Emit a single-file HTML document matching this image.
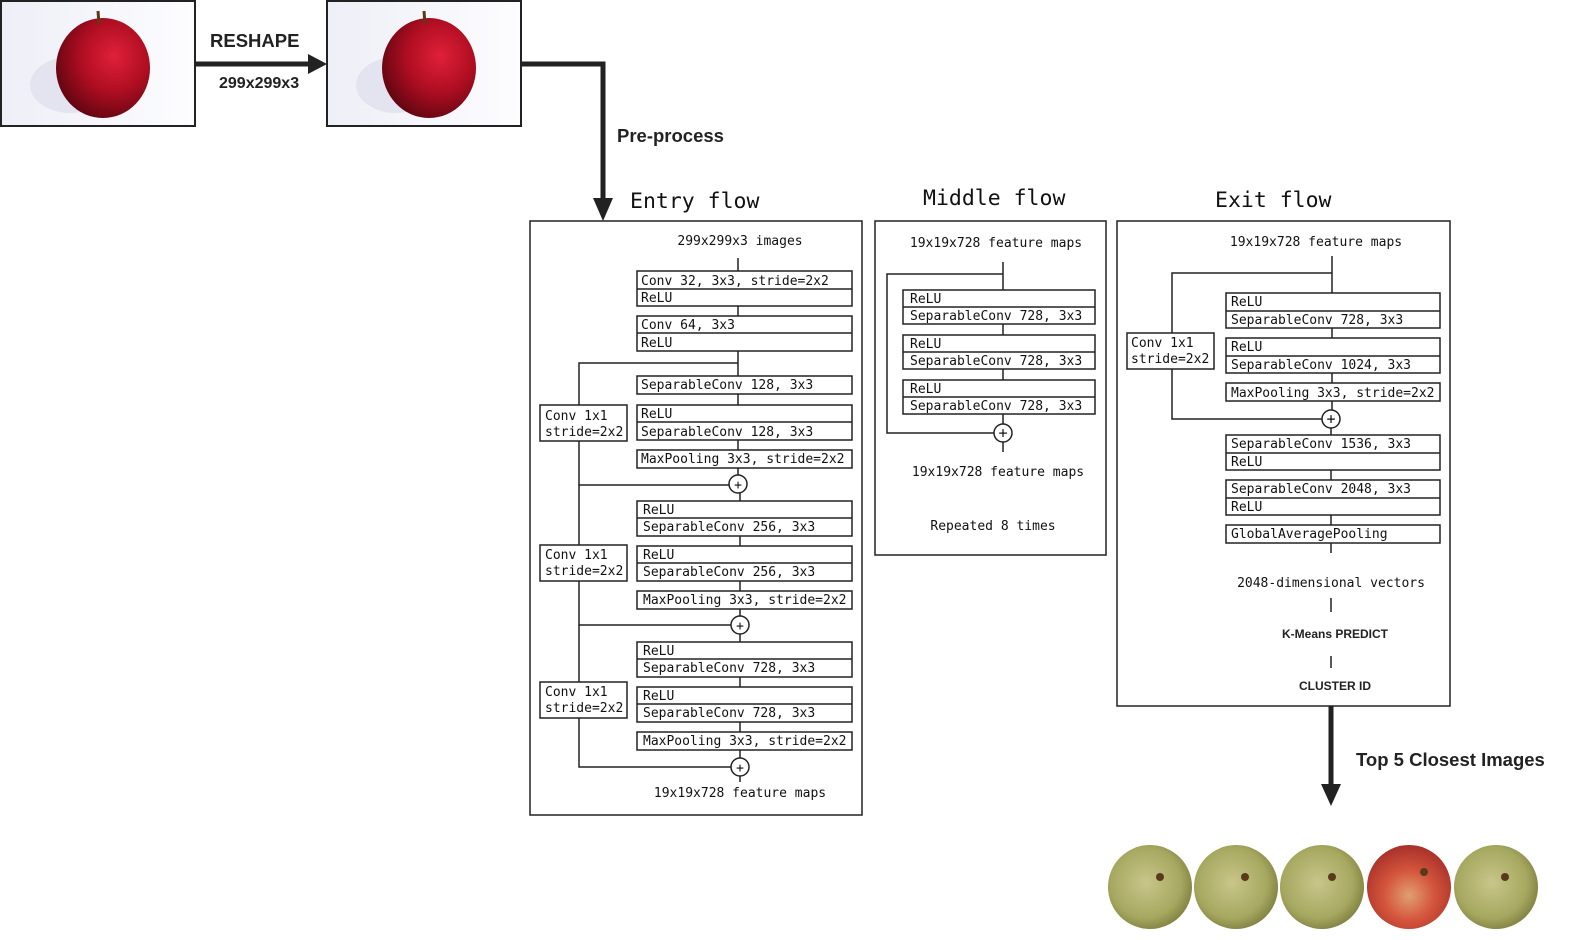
<!DOCTYPE html>
<html><head><meta charset="utf-8"><style>
html,body{margin:0;padding:0;background:#fff}
svg{display:block}
.m{font-family:"DejaVu Sans Mono","Liberation Mono",monospace;font-size:13px;fill:#111}
.t{font-family:"DejaVu Sans Mono","Liberation Mono",monospace;font-size:21.5px;fill:#111}
.s{font-family:"Liberation Sans",sans-serif;font-weight:bold;fill:#222}
</style></head><body>
<svg width="1569" height="940" viewBox="0 0 1569 940" xmlns="http://www.w3.org/2000/svg">
<defs>
<radialGradient id="ra" cx="0.62" cy="0.38" r="0.7">
<stop offset="0" stop-color="#e0203a"/><stop offset="0.5" stop-color="#b00e22"/><stop offset="1" stop-color="#5a0510"/>
</radialGradient>
<radialGradient id="ga" cx="0.45" cy="0.45" r="0.6">
<stop offset="0" stop-color="#c9c68a"/><stop offset="0.7" stop-color="#a6a860"/><stop offset="1" stop-color="#7d7c3e"/>
</radialGradient>
<radialGradient id="pa" cx="0.5" cy="0.6" r="0.6">
<stop offset="0" stop-color="#e0a070"/><stop offset="0.5" stop-color="#d4553c"/><stop offset="1" stop-color="#a8302a"/>
</radialGradient>
<linearGradient id="bg" x1="0" x2="1"><stop offset="0" stop-color="#eeeff7"/><stop offset="1" stop-color="#fdfdff"/></linearGradient>
</defs>

<g stroke="#222" stroke-width="2">
<rect x="1" y="1" width="194" height="125" fill="url(#bg)"/>
<rect x="327" y="1" width="194" height="125" fill="url(#bg)"/>
</g>
<g>
<ellipse cx="70" cy="85" rx="40" ry="28" fill="#e4e4f0"/>
<ellipse cx="103" cy="68" rx="47" ry="50" fill="url(#ra)"/>
<path d="M99 24 L98 11" stroke="#5a3a1a" stroke-width="3"/>
<ellipse cx="396" cy="85" rx="40" ry="28" fill="#e4e4f0"/>
<ellipse cx="429" cy="68" rx="47" ry="50" fill="url(#ra)"/>
<path d="M425 24 L424 11" stroke="#5a3a1a" stroke-width="3"/>
</g>

<line x1="195" y1="64" x2="310" y2="64" stroke="#222" stroke-width="5"/>
<polygon points="308,54 327,64 308,74" fill="#222"/>
<text class="s" x="210" y="47" font-size="18.5">RESHAPE</text>
<text class="s" x="219" y="88" font-size="16">299x299x3</text>
<polyline points="521,64 603,64 603,200" fill="none" stroke="#222" stroke-width="5"/>
<polygon points="593,198 603,221 613,198" fill="#222"/>
<text class="s" x="617" y="142" font-size="18.5">Pre-process</text>

<text class="t" x="630" y="208">Entry flow</text>
<text class="t" x="923" y="205">Middle flow</text>
<text class="t" x="1215" y="207">Exit flow</text>

<g stroke="#222" stroke-width="1.5" fill="none">
<rect x="530" y="221" width="332" height="594"/>
<rect x="875" y="221" width="231" height="334"/>
<rect x="1117" y="221" width="333" height="485"/>
</g>

<g stroke="#222" stroke-width="1.5" fill="none">
<line x1="738" y1="258" x2="738" y2="475"/>
<line x1="740" y1="493" x2="740" y2="616"/>
<line x1="740" y1="634" x2="740" y2="758"/>
<polyline points="738,363 579,363 579,485 729,485"/>
<polyline points="579,485 579,625 731,625"/>
<polyline points="579,625 579,767 731,767"/>
<line x1="740" y1="776" x2="740" y2="782"/>
</g>
<g stroke="#222" stroke-width="1.5" fill="#fff">
<rect x="637" y="271" width="215" height="35"/><line x1="637" y1="289" x2="852" y2="289"/>
<rect x="637" y="316" width="215" height="35"/><line x1="637" y1="333" x2="852" y2="333"/>
<rect x="637" y="376" width="215" height="18"/>
<rect x="637" y="405" width="215" height="35"/><line x1="637" y1="422" x2="852" y2="422"/>
<rect x="637" y="450" width="215" height="18"/>
<circle cx="738" cy="484" r="9"/>
<rect x="540" y="405" width="87" height="36"/>
<rect x="637" y="501" width="215" height="35"/><line x1="637" y1="518" x2="852" y2="518"/>
<rect x="637" y="546" width="215" height="35"/><line x1="637" y1="563" x2="852" y2="563"/>
<rect x="637" y="591" width="215" height="18"/>
<circle cx="740" cy="625" r="9"/>
<rect x="540" y="545" width="87" height="36"/>
<rect x="637" y="642" width="215" height="35"/><line x1="637" y1="659" x2="852" y2="659"/>
<rect x="637" y="687" width="215" height="35"/><line x1="637" y1="704" x2="852" y2="704"/>
<rect x="637" y="732" width="215" height="18"/>
<circle cx="740" cy="767" r="9"/>
<rect x="540" y="682" width="87" height="36"/>
</g>
<g class="m">
<text x="740" y="245" text-anchor="middle">299x299x3 images</text>
<text x="641" y="285">Conv 32, 3x3, stride=2x2</text><text x="641" y="302">ReLU</text>
<text x="641" y="329">Conv 64, 3x3</text><text x="641" y="347">ReLU</text>
<text x="641" y="389">SeparableConv 128, 3x3</text>
<text x="641" y="418">ReLU</text><text x="641" y="436">SeparableConv 128, 3x3</text>
<text x="641" y="463">MaxPooling 3x3, stride=2x2</text>
<text x="545" y="420">Conv 1x1</text><text x="545" y="436">stride=2x2</text>
<text x="643" y="514">ReLU</text><text x="643" y="531">SeparableConv 256, 3x3</text>
<text x="643" y="559">ReLU</text><text x="643" y="576">SeparableConv 256, 3x3</text>
<text x="643" y="604">MaxPooling 3x3, stride=2x2</text>
<text x="545" y="559">Conv 1x1</text><text x="545" y="575">stride=2x2</text>
<text x="643" y="655">ReLU</text><text x="643" y="672">SeparableConv 728, 3x3</text>
<text x="643" y="700">ReLU</text><text x="643" y="717">SeparableConv 728, 3x3</text>
<text x="643" y="745">MaxPooling 3x3, stride=2x2</text>
<text x="545" y="696">Conv 1x1</text><text x="545" y="712">stride=2x2</text>
<text x="740" y="797" text-anchor="middle">19x19x728 feature maps</text>
</g>
<g class="m" font-size="15" text-anchor="middle">
<text x="738" y="489">+</text><text x="740" y="630">+</text><text x="740" y="772">+</text>
</g>

<g stroke="#222" stroke-width="1.5" fill="none">
<line x1="1003" y1="262" x2="1003" y2="424"/>
<polyline points="1003,274 887,274 887,433 994,433"/>
<line x1="1003" y1="442" x2="1003" y2="452"/>
</g>
<g stroke="#222" stroke-width="1.5" fill="#fff">
<rect x="903" y="290" width="192" height="34"/><line x1="903" y1="307" x2="1095" y2="307"/>
<rect x="903" y="335" width="192" height="34"/><line x1="903" y1="352" x2="1095" y2="352"/>
<rect x="903" y="380" width="192" height="34"/><line x1="903" y1="397" x2="1095" y2="397"/>
<circle cx="1003" cy="433" r="9"/>
</g>
<g class="m">
<text x="996" y="247" text-anchor="middle">19x19x728 feature maps</text>
<text x="910" y="303">ReLU</text><text x="910" y="320">SeparableConv 728, 3x3</text>
<text x="910" y="348">ReLU</text><text x="910" y="365">SeparableConv 728, 3x3</text>
<text x="910" y="393">ReLU</text><text x="910" y="410">SeparableConv 728, 3x3</text>
<text x="998" y="476" text-anchor="middle">19x19x728 feature maps</text>
<text x="993" y="530" text-anchor="middle">Repeated 8 times</text>
<text x="1003" y="438" text-anchor="middle" font-size="15">+</text>
</g>

<g stroke="#222" stroke-width="1.5" fill="none">
<line x1="1332" y1="256" x2="1332" y2="410"/>
<polyline points="1332,273 1172,273 1172,419 1322,419"/>
<line x1="1331" y1="428" x2="1331" y2="553"/>
<line x1="1331" y1="598" x2="1331" y2="612"/>
<line x1="1331" y1="656" x2="1331" y2="668"/>
</g>
<g stroke="#222" stroke-width="1.5" fill="#fff">
<rect x="1226" y="293" width="214" height="35"/><line x1="1226" y1="311" x2="1440" y2="311"/>
<rect x="1226" y="338" width="214" height="35"/><line x1="1226" y1="356" x2="1440" y2="356"/>
<rect x="1226" y="383" width="214" height="18"/>
<circle cx="1331" cy="419" r="9"/>
<rect x="1127" y="333" width="87" height="36"/>
<rect x="1226" y="435" width="214" height="35"/><line x1="1226" y1="453" x2="1440" y2="453"/>
<rect x="1226" y="480" width="214" height="35"/><line x1="1226" y1="498" x2="1440" y2="498"/>
<rect x="1226" y="525" width="214" height="18"/>
</g>
<g class="m">
<text x="1316" y="246" text-anchor="middle">19x19x728 feature maps</text>
<text x="1231" y="306">ReLU</text><text x="1231" y="324">SeparableConv 728, 3x3</text>
<text x="1231" y="351">ReLU</text><text x="1231" y="369">SeparableConv 1024, 3x3</text>
<text x="1231" y="397">MaxPooling 3x3, stride=2x2</text>
<text x="1131" y="347">Conv 1x1</text><text x="1131" y="363">stride=2x2</text>
<text x="1231" y="448">SeparableConv 1536, 3x3</text><text x="1231" y="466">ReLU</text>
<text x="1231" y="493">SeparableConv 2048, 3x3</text><text x="1231" y="511">ReLU</text>
<text x="1231" y="538">GlobalAveragePooling</text>
<text x="1331" y="587" text-anchor="middle">2048-dimensional vectors</text>
<text x="1331" y="424" text-anchor="middle" font-size="15">+</text>
</g>
<text class="s" x="1335" y="638" font-size="12" text-anchor="middle" fill="#333">K-Means PREDICT</text>
<text class="s" x="1335" y="690" font-size="12" text-anchor="middle" fill="#333">CLUSTER ID</text>

<line x1="1331" y1="706" x2="1331" y2="786" stroke="#222" stroke-width="5"/>
<polygon points="1321,784 1331,806 1341,784" fill="#222"/>
<text class="s" x="1356" y="766" font-size="18.5">Top 5 Closest Images</text>

<g>
<circle cx="1150" cy="887" r="42" fill="url(#ga)"/>
<circle cx="1236" cy="887" r="42" fill="url(#ga)"/>
<circle cx="1322" cy="887" r="42" fill="url(#ga)"/>
<circle cx="1409" cy="887" r="42" fill="url(#pa)"/>
<circle cx="1496" cy="887" r="42" fill="url(#ga)"/>
<g fill="#5a3a1a">
<circle cx="1160" cy="877" r="4"/><circle cx="1245" cy="877" r="4"/><circle cx="1332" cy="877" r="4"/><circle cx="1424" cy="872" r="4"/><circle cx="1505" cy="877" r="4"/>
</g>
</g>
</svg>
</body></html>
